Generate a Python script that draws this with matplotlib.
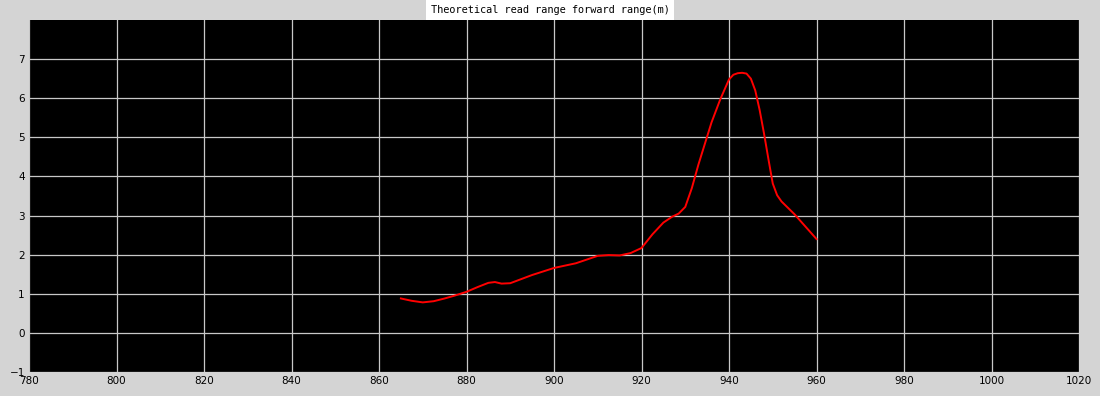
import numpy as np
import matplotlib.pyplot as plt

## frequency (MHz) and theoretical forward read range (m)
freq = [865, 867.5, 870, 872.5, 875, 877.5, 880, 882.5, 885, 886.5, 888, 890, 895, 900, 905,
        910, 912.5, 915, 917.5, 920, 922.5, 925, 927, 928.5, 930, 931.5, 933, 936, 938, 940,
        941, 942, 943, 944, 945, 946, 947, 948, 949, 950, 951, 952, 955, 960]
read_range = [0.88, 0.82, 0.78, 0.81, 0.88, 0.96, 1.05, 1.17, 1.28, 1.30, 1.26, 1.27, 1.48,
              1.66, 1.78, 1.97, 1.99, 1.98, 2.04, 2.17, 2.52, 2.82, 2.97, 3.05, 3.22, 3.7,
              4.3, 5.38, 5.97, 6.48, 6.60, 6.64, 6.65, 6.63, 6.5, 6.2, 5.7, 5.1, 4.45, 3.82,
              3.52, 3.36, 3.03, 2.4]

x_ticks = np.arange(780, 1021, 20)
y_ticks = np.arange(-1, 8, 1)
title = 'Theoretical read range forward range(m)'

fig = plt.figure(figsize=(11, 3.96), dpi=100, facecolor='#d4d4d4')
ax = fig.add_axes([29 / 1100, 24 / 396, 1050 / 1100, 352 / 396])
ax.set_facecolor('black')

ax.plot(freq, read_range, color='#ff0000', linewidth=1.4, zorder=3)

ax.set_xlim(780, 1020)
ax.set_ylim(-1, 8)
ax.set_xticks(x_ticks)
ax.set_yticks(y_ticks)
ax.tick_params(length=0, labelsize=7.5, colors='black', pad=3)
ax.grid(True, color='#c8c8c8', linewidth=0.9)
for s in ax.spines.values():
    s.set_visible(False)

fig.text(550 / 1100, 386 / 396, title, ha='center', va='center',
         family='DejaVu Sans Mono', fontsize=7.4,
         bbox=dict(facecolor='white', edgecolor='none', pad=3.5))

fig.savefig('out.png', dpi=100, facecolor=fig.get_facecolor())
